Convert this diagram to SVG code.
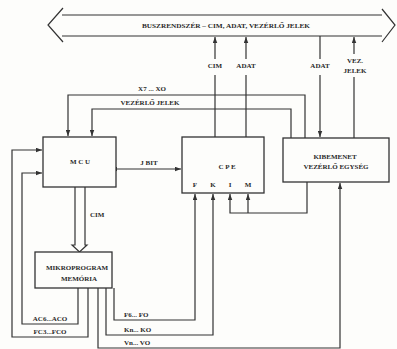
<svg xmlns="http://www.w3.org/2000/svg" width="397" height="349" viewBox="0 0 397 349">
<style>
.ln{fill:none;stroke:#333;stroke-width:1.2}
.box{fill:#fdfdfb;stroke:#333;stroke-width:1.3}
.t{font-family:"Liberation Serif",serif;font-weight:bold;font-size:7px;fill:#2a2a2a}
.c{text-anchor:middle}
</style>
<defs>
<marker id="ah" viewBox="0 0 8 6" refX="8" refY="3" markerWidth="6" markerHeight="5" orient="auto" markerUnits="userSpaceOnUse">
<path d="M0,0 L8,3 L0,6 Z" fill="#333"/>
</marker>
<marker id="as" viewBox="0 0 8 6" refX="0" refY="3" markerWidth="6" markerHeight="5" orient="auto-start-reverse" markerUnits="userSpaceOnUse">
<path d="M0,0 L8,3 L0,6 Z" fill="#333"/>
</marker>
</defs>
<rect width="397" height="349" fill="#fdfdfb"/>
<g id="bus">
<path class="ln" d="M62,15 L382,15 M62,36 L382,36 M63,8 L48,25 L63,42 M382,9 L395,25 L382,42"/>
<text class="t c" x="226" y="28" textLength="168" lengthAdjust="spacingAndGlyphs">BUSZRENDSZÉR – CIM, ADAT, VEZÉRLŐ JELEK</text>
</g>
<g id="connectors">
<path class="ln" d="M215,59 L215,37" marker-end="url(#ah)"/>
<path class="ln" d="M215,75 L215,137"/>
<path class="ln" d="M246,59 L246,37" marker-end="url(#ah)"/>
<path class="ln" d="M246,75 L246,137"/>
<path class="ln" d="M320,36 L320,59"/>
<path class="ln" d="M320,75 L320,137" marker-end="url(#ah)"/>
<path class="ln" d="M354,54 L354,37" marker-end="url(#ah)"/>
<path class="ln" d="M354,77 L354,138"/>
<path class="ln" d="M305,138 L305,95 L68,95 L68,136" marker-end="url(#ah)"/>
<path class="ln" d="M291,138 L291,109 L92,109 L92,136" marker-end="url(#ah)"/>
<path class="ln" d="M117,169 L181,169" marker-start="url(#as)" marker-end="url(#ah)"/>
<path class="ln" d="M75,187 L75,245 L72,245 L79.5,252 L87,245 L85,245 L85,187"/>
<path class="ln" d="M88,288 L88,337 L12,337 L12,150 L42,150" marker-end="url(#ah)"/>
<path class="ln" d="M78,288 L78,324 L22,324 L22,173 L42,173" marker-end="url(#ah)"/>
<path class="ln" d="M114,288 L114,320 L195,320 L195,194" marker-end="url(#ah)"/>
<path class="ln" d="M106,288 L106,335 L213,335 L213,194" marker-end="url(#ah)"/>
<path class="ln" d="M98,288 L98,348 L340,348 L340,183" marker-end="url(#ah)"/>
<path class="ln" d="M307,182 L307,213 L230,213 L230,194" marker-end="url(#ah)"/>
<path class="ln" d="M248,213 L248,194" marker-end="url(#ah)"/>
<text class="t c" x="215" y="68">CIM</text>
<text class="t c" x="246" y="68">ADAT</text>
<text class="t c" x="320" y="68">ADAT</text>
<text class="t c" x="355" y="63">VEZ.</text>
<text class="t c" x="355" y="73">JELEK</text>
<text class="t c" x="152" y="91">X7 ... XO</text>
<text class="t c" x="150" y="105">VEZÉRLŐ JELEK</text>
<text class="t c" x="149" y="165">J BIT</text>
<text class="t" x="90" y="217">CIM</text>
<text class="t c" x="50" y="321">AC6...ACO</text>
<text class="t c" x="50" y="334">FC3...FCO</text>
<text class="t" x="124" y="317">F6... FO</text>
<text class="t" x="124" y="332">Kn... KO</text>
<text class="t" x="124" y="345">Vn... VO</text>
</g>
<g id="mcu">
<rect class="box" x="43" y="137" width="73" height="50"/>
<text class="t c" x="80" y="164">M C U</text>
</g>
<g id="cpe">
<rect class="box" x="182" y="137" width="82" height="56"/>
<text class="t c" x="227" y="169">C P E</text>
<text class="t c" x="195" y="187">F</text>
<text class="t c" x="213" y="187">K</text>
<text class="t c" x="230" y="187">I</text>
<text class="t c" x="248" y="187">M</text>
</g>
<g id="kibemenet">
<rect class="box" x="283" y="138" width="106" height="44"/>
<text class="t c" x="335" y="159">KIBEMENET</text>
<text class="t c" x="336" y="169">VEZÉRLŐ EGYSÉG</text>
</g>
<g id="memoria">
<rect class="box" x="35" y="252" width="77" height="36"/>
<text class="t c" x="77" y="270">MIKROPROGRAM</text>
<text class="t c" x="79" y="281">MEMÓRIA</text>
</g>
</svg>
